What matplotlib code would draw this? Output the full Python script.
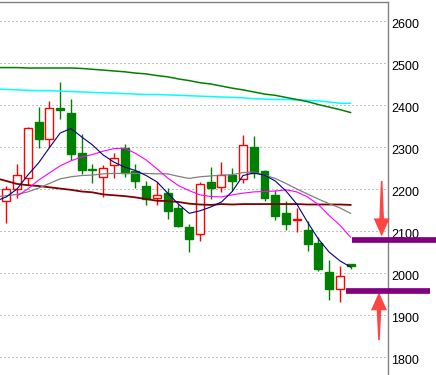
import numpy as np
import matplotlib
matplotlib.use('Agg')
import matplotlib.pyplot as plt
from matplotlib.patches import Rectangle, Polygon
from matplotlib.transforms import ScaledTranslation

plt.rcParams['font.family'] = ['Liberation Sans', 'DejaVu Sans']

# daily candles
opens = [2171, 2199, 2226, 2360, 2318, 2393, 2381, 2286, 2248, 2228, 2256,
         2297, 2243, 2207, 2179, 2191, 2154, 2110, 2092, 2217, 2204, 2234,
         2223, 2300, 2243, 2186, 2143, 2125, 2102, 2071, 2002, 1961, 2021]
highs = [2207, 2259, 2347, 2394, 2410, 2454, 2414, 2330, 2260, 2257, 2286,
         2307, 2260, 2219, 2217, 2202, 2164, 2116, 2217, 2252, 2264, 2250,
         2329, 2326, 2245, 2198, 2171, 2155, 2124, 2086, 2031, 2017, 2022]
lows = [2118, 2178, 2210, 2298, 2301, 2367, 2269, 2236, 2214, 2180, 2226,
        2228, 2203, 2161, 2163, 2129, 2110, 2051, 2075, 2176, 2192, 2195,
        2214, 2226, 2172, 2125, 2102, 2098, 2053, 2005, 1936, 1930, 2009]
closes = [2199, 2233, 2345, 2320, 2392, 2387, 2284, 2244, 2244, 2249, 2273,
          2239, 2220, 2176, 2185, 2148, 2113, 2082, 2211, 2203, 2233, 2220,
          2304, 2239, 2179, 2136, 2117, 2128, 2070, 2010, 1962, 1993, 2016]

# moving averages, one value per candle starting one bar left of the view
ma_x = np.arange(-1, 33)
ma5 = [2171, 2181, 2200, 2233, 2262, 2298, 2333, 2344, 2324, 2305, 2281,
       2264, 2252, 2244, 2232, 2217, 2190, 2164, 2142, 2148, 2157, 2169,
       2194, 2232, 2238, 2233, 2219, 2195, 2164, 2121, 2081, 2050, 2029, 2014]
ma20 = [2181, 2184, 2187, 2193, 2202, 2213, 2224, 2229, 2232, 2233, 2236,
        2237, 2237, 2237, 2237, 2236, 2236, 2230, 2225, 2229, 2231, 2233,
        2234, 2239, 2240, 2233, 2225, 2213, 2200, 2188, 2176, 2165, 2155, 2142]
ma60 = [2226, 2219, 2212, 2209, 2207, 2204, 2201, 2198, 2194, 2192, 2187,
        2185, 2183, 2180, 2176, 2172, 2171, 2169, 2165, 2163, 2162, 2164,
        2163, 2164, 2164, 2164, 2164, 2164, 2164, 2163, 2163, 2163, 2163, 2162]
ma120 = [2489, 2489, 2489, 2488, 2488, 2488, 2488, 2488, 2487, 2485, 2483,
         2481, 2479, 2476, 2474, 2470, 2467, 2462, 2458, 2453, 2450, 2445,
         2440, 2436, 2431, 2426, 2423, 2418, 2413, 2408, 2401, 2395, 2389, 2382]
ma250 = [2438, 2437, 2436, 2435, 2434, 2434, 2433, 2432, 2431, 2430, 2429,
         2428, 2427, 2426, 2425, 2425, 2424, 2423, 2422, 2421, 2420, 2419,
         2418, 2417, 2415, 2414, 2413, 2413, 2412, 2411, 2410, 2407, 2404, 2404]
ma10_x = np.arange(1, 33)
ma10 = [2183, 2200, 2221, 2238, 2255, 2267, 2276, 2282, 2290, 2296, 2297,
        2285, 2269, 2248, 2226, 2208, 2196, 2186, 2182, 2181, 2186, 2190,
        2193, 2194, 2195, 2198, 2193, 2181, 2163, 2137, 2114, 2085]

y_ticks = [1800, 1900, 2000, 2100, 2200, 2300, 2400, 2500, 2600]

# marked levels (purple bars) and arrows pointing at them
levels = [2079, 1958]
level_spans = [(32.1, 40.0), (31.6, 39.4)]
arrows = [(34.89, 2219, 2087), (34.64, 1840, 1954)]  # x, tail, tip

fig = plt.figure(figsize=(4.36, 3.75), dpi=100)
ax = fig.add_axes([0, 0, 387.7 / 436, 1 - 2.3 / 375])
ax.set_xlim(-0.585, 35.45)
ax.set_ylim(1757, 2644.5)

# size of one pixel in data units
px = (35.45 + 0.585) / 387.7
py = (2644.5 - 1757) / (375 - 2.3)

red, green = '#ff0000', '#008000'
idx = np.arange(len(opens))
up = [c >= o for o, c in zip(opens, closes)]
cols = [red if u else green for u in up]
ax.vlines(idx, lows, highs, colors=cols, lw=1.0, zorder=2)
w = 0.74
for i in idx:
    o, c = opens[i], closes[i]
    b = min(o, c)
    h = max(abs(c - o), 0.8)
    ax.add_patch(Rectangle((i - w / 2, b), w, h,
                           facecolor='white' if up[i] else green,
                           edgecolor=cols[i], lw=1.0, zorder=3))

ax.plot(ma_x, ma250, color='#00ffff', lw=1.1, zorder=4)
ax.plot(ma_x, ma120, color='#008000', lw=1.1, zorder=4)
ax.plot(ma_x, ma60, color='#800000', lw=1.3, zorder=4)
ax.plot(ma_x, ma20, color='#808080', lw=0.9, zorder=4)
ax.plot(ma10_x, ma10, color='#ff00ff', lw=0.8, zorder=4)
ax.plot(ma_x, ma5, color='#000080', lw=0.8, zorder=4)

for lv, (x0, x1) in zip(levels, level_spans):
    ax.plot([x0, x1], [lv, lv], color='#800080', lw=4.1,
            solid_capstyle='butt', clip_on=False, zorder=7)

for xc, tail, tip in arrows:
    s = 1 if tip > tail else -1
    base = tip - s * 18 * py
    pts = [(xc - 0.8 * px, tail), (xc + 0.8 * px, tail),
           (xc + 2.3 * px, base), (xc + 8 * px, base), (xc, tip),
           (xc - 8 * px, base), (xc - 2.3 * px, base)]
    ax.add_patch(Polygon(pts, closed=True, facecolor='#ff4444',
                         edgecolor='none', clip_on=False, zorder=6))

ax.set_xticks([])
ax.yaxis.tick_right()
ax.set_yticks(y_ticks)
ax.tick_params(axis='y', length=0, pad=2.5, labelsize=9, labelcolor='black')
off = ScaledTranslation(0, -3 / 100, fig.dpi_scale_trans)
for lab in ax.get_yticklabels():
    lab.set_transform(lab.get_transform() + off)

ax.grid(axis='y', color='#808080', linestyle=(0, (1, 3)), lw=0.72)
ax.set_axisbelow(True)
ax.spines['left'].set_visible(False)
ax.spines['bottom'].set_visible(False)
for s in ['top', 'right']:
    ax.spines[s].set_color('#808080')
    ax.spines[s].set_linewidth(1.0)

fig.savefig('out.png', dpi=100)
